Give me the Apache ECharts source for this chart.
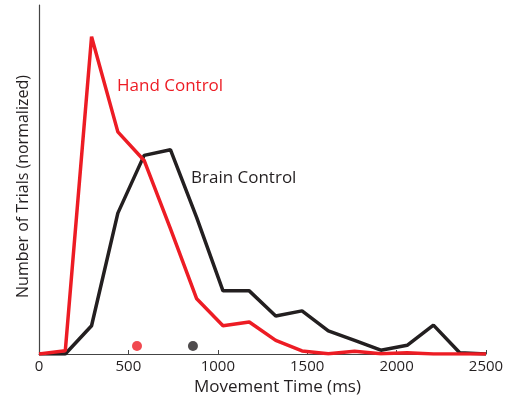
<!DOCTYPE html>
<html><head><meta charset="utf-8">
<script src="https://cdn.jsdelivr.net/npm/echarts@6/dist/echarts.min.js"></script>
<style>html,body{margin:0;padding:0;background:#fff}#c{width:508px;height:396px}</style>
</head><body><div id="c"></div>
<script>
var binTimes = [0,147,294,441,588,735,882,1029,1176,1324,1471,1618,1765,1912,2059,2206,2353,2500];
var handControl = [0,0.01,1.0,0.70,0.61,0.395,0.174,0.089,0.101,0.043,0.0095,0.001,0.009,0.001,0.004,0,0,0];
var brainControl = [0,0,0.089,0.444,0.626,0.644,0.43,0.199,0.199,0.12,0.136,0.073,0.043,0.012,0.0275,0.091,0.004,0];
var handMean = [548, 0.025];
var brainMean = [861, 0.025];
var xTicks = [0,500,1000,1500,2000,2500];

var RED = '#ed1c24', BLK = '#231f20';
function pairs(v){ return binTimes.map(function(t,i){ return [t, v[i]]; }); }
var chart = echarts.init(document.getElementById('c'));
chart.setOption({
  animation:false,
  grid:{left:39,right:22,top:5,bottom:42,outerBoundsMode:'none',containLabel:false},
  xAxis:{type:'value',min:0,max:2500,interval:500,
    name:'Movement Time (ms)',nameLocation:'middle',nameGap:22,
    nameTextStyle:{fontFamily:'Open Sans',fontSize:17,color:BLK,padding:[0,0,0,30]},
    axisLine:{lineStyle:{color:'#444',width:1.2}},
    axisTick:{inside:true,length:4,lineStyle:{color:'#444'}},
    axisLabel:{fontFamily:'Open Sans',fontSize:15,color:BLK,margin:5,
      formatter:function(v){return xTicks.indexOf(v)>=0?String(v):'';}},
    splitLine:{show:false}},
  yAxis:{type:'value',min:0,max:1.1,
    name:'Number of Trials (normalized)',nameLocation:'middle',nameGap:8,
    nameTextStyle:{fontFamily:'Open Sans',fontSize:16,color:BLK,padding:[0,14,0,0]},
    axisLine:{show:true,lineStyle:{color:'#444',width:1.2}},
    axisTick:{show:false},axisLabel:{show:false},splitLine:{show:false}},
  series:[
    {type:'line',data:pairs(brainControl),symbol:'none',lineStyle:{color:BLK,width:3.5},z:2},
    {type:'line',data:pairs(handControl),symbol:'none',lineStyle:{color:RED,width:3.5},z:3},
    {type:'scatter',data:[handMean],symbolSize:10,itemStyle:{color:RED},z:4},
    {type:'scatter',data:[brainMean],symbolSize:10,itemStyle:{color:BLK},z:4}
  ],
  graphic:[
    {type:'text',left:117,top:78,style:{text:'Hand Control',fill:RED,font:'17px "Open Sans"'}},
    {type:'text',left:191,top:170,style:{text:'Brain Control',fill:BLK,font:'17px "Open Sans"'}}
  ]
});
</script></body></html>
